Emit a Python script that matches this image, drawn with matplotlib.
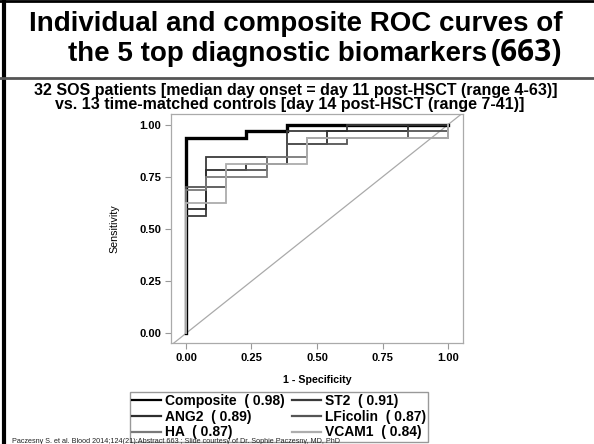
import matplotlib
matplotlib.use("Agg")
import matplotlib.pyplot as plt
from matplotlib.lines import Line2D

# ROC step curves (1 - specificity, sensitivity)
composite_fpr = [0, 0, 0.231, 0.231, 0.385, 0.385, 1.0]
composite_tpr = [0, 0.938, 0.938, 0.969, 0.969, 1.0, 1.0]

st2_fpr = [0, 0, 0.077, 0.077, 0.385, 0.385, 0.615, 0.615, 1.0]
st2_tpr = [0, 0.563, 0.563, 0.844, 0.844, 0.969, 0.969, 1.0, 1.0]

ang2_fpr = [0, 0, 0.077, 0.077, 0.231, 0.231, 0.385, 0.385, 0.538, 0.538, 0.846, 0.846, 1.0]
ang2_tpr = [0, 0.594, 0.594, 0.781, 0.781, 0.813, 0.813, 0.906, 0.906, 0.969, 0.969, 1.0, 1.0]

lficolin_fpr = [0, 0, 0.154, 0.154, 0.308, 0.308, 0.385, 0.385, 0.615, 0.615, 0.846, 0.846, 1.0, 1.0]
lficolin_tpr = [0, 0.703, 0.703, 0.781, 0.781, 0.844, 0.844, 0.906, 0.906, 0.938, 0.938, 0.969, 0.969, 1.0]

ha_fpr = [0, 0, 0.077, 0.077, 0.308, 0.308, 0.462, 0.462, 1.0, 1.0]
ha_tpr = [0, 0.688, 0.688, 0.75, 0.75, 0.844, 0.844, 0.938, 0.938, 1.0]

vcam1_fpr = [0, 0, 0.154, 0.154, 0.462, 0.462, 1.0, 1.0]
vcam1_tpr = [0, 0.625, 0.625, 0.813, 0.813, 0.938, 0.938, 1.0]

names = ["Composite", "ST2", "ANG2", "LFicolin", "HA", "VCAM1"]
aucs = [0.98, 0.91, 0.89, 0.87, 0.87, 0.84]
ticks = [0.0, 0.25, 0.5, 0.75, 1.0]
tick_labels = ["0.00", "0.25", "0.50", "0.75", "1.00"]

W, H = 594, 444
plt.rcParams["font.family"] = ["Liberation Sans", "DejaVu Sans"]

fig = plt.figure(figsize=(W / 100, H / 100), dpi=100)

# slide frame and header rule
fig.add_artist(Line2D([4 / W, 4 / W], [0, 1], color="black", lw=3))
fig.add_artist(Line2D([0, 1], [1 - 1.5 / H, 1 - 1.5 / H], color="black", lw=2))
fig.add_artist(Line2D([0, 1], [1 - 78 / H, 1 - 78 / H], color="#555555", lw=2))

fig.text(29 / W, 1 - 31 / H, "Individual and composite ROC curves of",
         fontsize=20, fontweight="bold", ha="left", va="baseline")
fig.text(68 / W, 1 - 61 / H, "the 5 top diagnostic biomarkers",
         fontsize=20, fontweight="bold", ha="left", va="baseline")
fig.text(491 / W, 1 - 61 / H, "(663)", fontsize=21.5, fontweight="bold",
         family=["Open Sans", "DejaVu Sans"], ha="left", va="baseline")

fig.text(296 / W, 1 - 90 / H,
         "32 SOS patients [median day onset = day 11 post-HSCT (range 4-63)]",
         fontsize=11.5, fontweight="bold", ha="center", va="center")
fig.text(290 / W, 1 - 104.5 / H,
         "vs. 13 time-matched controls [day 14 post-HSCT (range 7-41)]",
         fontsize=11.5, fontweight="bold", ha="center", va="center")

ax = fig.add_axes([171 / W, 1 - 343 / H, (463 - 171) / W, (343 - 114) / H])

# chance line
ax.plot([-0.05, 1.05], [-0.05, 1.05], color="#aaaaaa", lw=0.9)

curves = [
    (composite_fpr, composite_tpr, "black", 2.4),
    (st2_fpr, st2_tpr, "#3a3a3a", 1.3),
    (ang2_fpr, ang2_tpr, "#2e2e2e", 1.3),
    (lficolin_fpr, lficolin_tpr, "#555555", 1.3),
    (ha_fpr, ha_tpr, "#7a7a7a", 1.3),
    (vcam1_fpr, vcam1_tpr, "#adadad", 1.3),
]
handles = []
for (fx, ty, col, lw), name, auc in zip(curves, names, aucs):
    ax.plot(fx, ty, color=col, lw=lw, solid_joinstyle="miter")
    h = Line2D([], [], color=col, lw=1.6, label="%s  ( %.2f)" % (name, auc))
    handles.append(h)

ax.set_xlim(-0.057, 1.057)
ax.set_ylim(-0.046, 1.051)
ax.set_xticks(ticks)
ax.set_yticks(ticks)
ax.set_xticklabels(tick_labels, fontweight="bold", fontsize=8)
ax.set_yticklabels(tick_labels, fontweight="bold", fontsize=8)
ax.tick_params(length=4, width=0.8, color="#999999", pad=3)
for s in ax.spines.values():
    s.set_color("#aaaaaa")
    s.set_linewidth(0.9)
ax.set_xlabel("1 - Specificity", fontweight="bold", fontsize=7.7, labelpad=9)
ax.set_ylabel("Sensitivity", fontsize=7.7, labelpad=14)

# legend rows: Composite|ST2, ANG2|LFicolin, HA|VCAM1
order = [0, 2, 4, 1, 3, 5]
leg = fig.legend([handles[i] for i in order],
                 [handles[i].get_label() for i in order],
                 loc="upper center", bbox_to_anchor=(279 / W, 1 - 392 / H),
                 ncol=2, prop={"weight": "bold", "size": 10},
                 handlelength=2.1, handletextpad=0.3, columnspacing=0.5,
                 labelspacing=0.12, borderpad=0.15, borderaxespad=0,
                 fancybox=False, framealpha=1)
leg.get_frame().set_edgecolor("#999999")
leg.get_frame().set_linewidth(1.0)

fig.text(12 / W, 1 - 441.5 / H,
         "Paczesny S. et al. Blood 2014;124(21):Abstract 663 ; "
         "Slide courtesy of Dr. Sophie Paczesny, MD, PhD",
         fontsize=5.2, ha="left", va="center", color="#222222", zorder=10)

fig.savefig("out.png", dpi=100)
